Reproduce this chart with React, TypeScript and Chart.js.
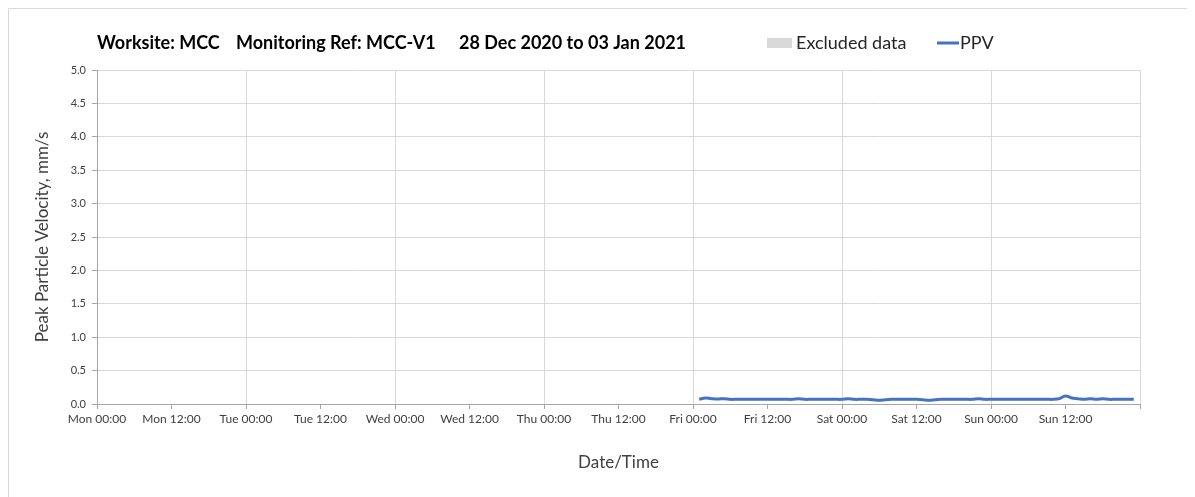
import React, { useEffect, useRef } from "react";
import { Chart, registerables } from "chart.js";

Chart.register(...registerables);

// Hours since Mon 28 Dec 2020 00:00
const hours = [
  97, 98, 99, 100, 101, 102, 103, 104, 105, 106, 107, 108, 109, 110, 111, 112, 113, 114, 115, 116,
  117, 118, 119, 120, 121, 122, 123, 124, 125, 126, 127, 128, 129, 130, 131, 132, 133, 134, 135, 136,
  137, 138, 139, 140, 141, 142, 143, 144, 145, 146, 147, 148, 149, 150, 151, 152, 153, 154, 155, 156,
  157, 158, 159, 160, 161, 162, 163, 164, 165, 166, 167,
];
const ppv = [
  0.07, 0.09, 0.08, 0.075, 0.08, 0.07, 0.07, 0.07, 0.07, 0.07, 0.07, 0.07, 0.07, 0.07, 0.07, 0.07, 0.08, 0.07, 0.07, 0.07,
  0.07, 0.07, 0.07, 0.07, 0.08, 0.07, 0.07, 0.07, 0.065, 0.055, 0.065, 0.07, 0.07, 0.07, 0.07, 0.07, 0.065, 0.055, 0.065, 0.07,
  0.07, 0.07, 0.07, 0.07, 0.07, 0.08, 0.07, 0.07, 0.07, 0.07, 0.07, 0.07, 0.07, 0.07, 0.07, 0.07, 0.07, 0.07, 0.08, 0.12,
  0.09, 0.08, 0.07, 0.08, 0.07, 0.08, 0.07, 0.07, 0.07, 0.07, 0.07,
];
const dayNames = ["Mon", "Tue", "Wed", "Thu", "Fri", "Sat", "Sun"];
const titleParts = ["Worksite: MCC", "Monitoring Ref: MCC-V1", "28 Dec 2020 to 03 Jan 2021"];
const legendLabels = ["Excluded data", "PPV"];

const FONT = "Lato, 'Open Sans', sans-serif";

const headerPlugin = {
  id: "header",
  beforeDraw(chart: any) {
    const ctx = chart.ctx;
    ctx.save();
    ctx.strokeStyle = "#d9d9d9";
    ctx.lineWidth = 1;
    ctx.beginPath();
    ctx.moveTo(0.5, chart.height);
    ctx.lineTo(0.5, 0.5);
    ctx.lineTo(chart.width, 0.5);
    ctx.stroke();
    ctx.restore();
  },
  afterDraw(chart: any) {
    const ctx = chart.ctx;
    ctx.save();
    ctx.textBaseline = "middle";
    ctx.fillStyle = "#000";
    ctx.font = `bold 18px ${FONT}`;
    const y = 35;
    const xs = [89, 228, 451];
    titleParts.forEach((t, i) => ctx.fillText(t, xs[i], y));
    ctx.font = `18px ${FONT}`;
    ctx.fillStyle = "#d9d9d9";
    ctx.fillRect(759, 30, 25, 10);
    ctx.fillStyle = "#262626";
    ctx.fillText(legendLabels[0], 788, y);
    ctx.strokeStyle = "#4472C4";
    ctx.lineWidth = 3;
    ctx.beginPath();
    ctx.moveTo(929, 35);
    ctx.lineTo(951, 35);
    ctx.stroke();
    ctx.fillText(legendLabels[1], 952, y);
    ctx.restore();
  },
};

export default function App() {
  const ref = useRef<HTMLCanvasElement>(null);
  useEffect(() => {
    if (!ref.current) return;
    const chart = new Chart(ref.current, {
      type: "line",
      data: {
        datasets: [
          {
            label: "PPV",
            data: hours.map((h, i) => ({ x: h, y: ppv[i] })),
            borderColor: "#4472C4",
            borderWidth: 3,
            pointRadius: 0,
            tension: 0.4,
            fill: false,
          },
        ],
      },
      options: {
        animation: false,
        responsive: false,
        layout: { padding: { top: 62, right: 55, left: 20, bottom: 20 } },
        plugins: { legend: { display: false }, title: { display: false }, tooltip: { enabled: false } },
        scales: {
          x: {
            type: "linear",
            min: 0,
            max: 168,
            afterBuildTicks: (s: any) => {
              const t = [];
              for (let v = 0; v <= 168; v += 12) t.push({ value: v });
              s.ticks = t;
            },
            afterFit: (s: any) => {
              s.height = 73;
            },
            ticks: {
              autoSkip: false,
              maxRotation: 0,
              color: "#404040",
              font: { family: FONT, size: 12 },
              padding: 3,
              callback: (v: any) => {
                const n = Number(v);
                if (n >= 168) return "";
                const d = dayNames[Math.floor(n / 24)];
                return `${d} ${n % 24 === 0 ? "00:00" : "12:00"}`;
              },
            },
            grid: {
              color: (c: any) => (c.tick && c.tick.value % 24 === 0 ? "#d9d9d9" : "rgba(0,0,0,0)"),
              tickColor: "#a6a6a6",
              tickLength: 5,
              drawTicks: true,
            },
            border: { color: "#a6a6a6", width: 1 },
            title: {
              display: true,
              text: "Date/Time",
              color: "#404040",
              font: { family: FONT, size: 17 },
              padding: { top: 14 },
            },
          },
          y: {
            min: 0,
            max: 5,
            afterFit: (s: any) => {
              s.width = 69;
            },
            ticks: {
              stepSize: 0.5,
              color: "#404040",
              font: { family: FONT, size: 11 },
              padding: 6,
              callback: (v: any) => Number(v).toFixed(1),
            },
            grid: { color: "#d9d9d9", tickColor: "#a6a6a6", tickLength: 5 },
            border: { color: "#a6a6a6", width: 1 },
            title: {
              display: true,
              text: "Peak Particle Velocity, mm/s",
              color: "#404040",
              font: { family: FONT, size: 17 },
              padding: { bottom: 0 },
            },
          },
        },
      },
      plugins: [headerPlugin],
    });
    return () => chart.destroy();
  }, []);
  return <canvas ref={ref} width={1187} height={489} style={{ display: "block" }} />;
}
